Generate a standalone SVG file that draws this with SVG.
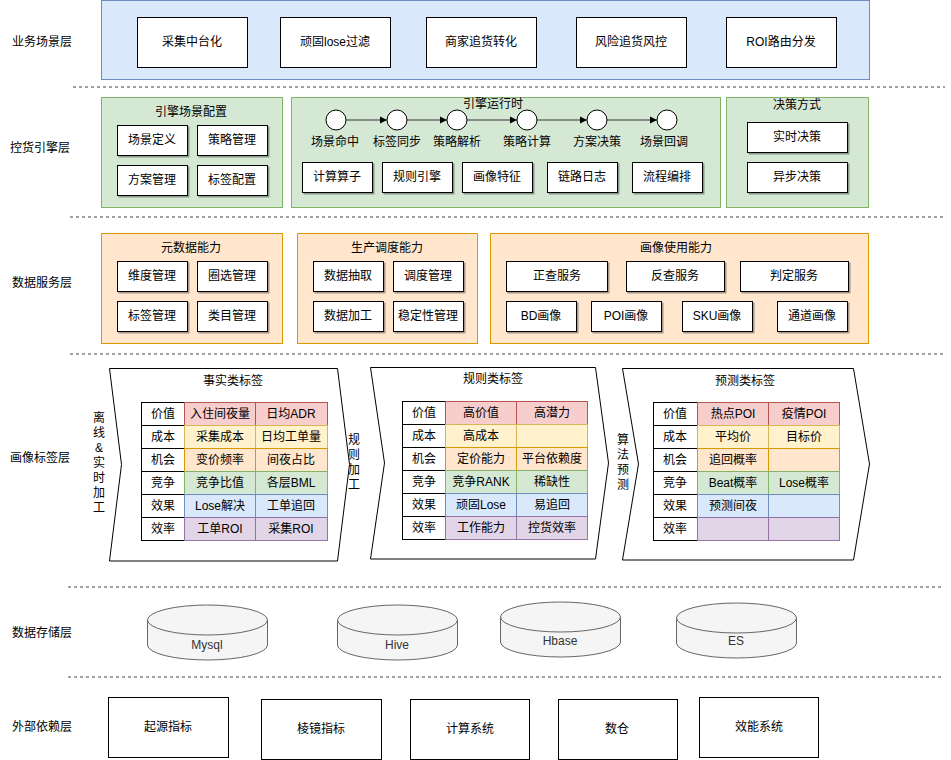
<svg xmlns="http://www.w3.org/2000/svg" width="951" height="760" viewBox="0 0 951 760">
<style>
text{font-family:"Liberation Sans","Noto Sans CJK SC",sans-serif;font-size:12px;fill:#000;text-anchor:middle;dominant-baseline:central}
.lbl{font-size:12px}
.box{fill:#fff;stroke:#000;stroke-width:1}
.sbox{fill:#fff;stroke:#000;stroke-width:1;filter:url(#sh)}
.blue{fill:#dae8fc;stroke:#6c8ebf}
.green{fill:#d5e8d4;stroke:#82b366}
.orange{fill:#ffe6cc;stroke:#d79b00}
.dash{stroke:#444;stroke-width:1;stroke-dasharray:3 3;fill:none}
.chev{fill:#fff;stroke:#000;stroke-width:1}
.c0{fill:#fff;stroke:#000}
.c1{fill:#f8cecc;stroke:#b85450}
.c2{fill:#fff2cc;stroke:#d6b656}
.c3{fill:#ffe6cc;stroke:#d79b00}
.c4{fill:#d5e8d4;stroke:#82b366}
.c5{fill:#dae8fc;stroke:#6c8ebf}
.c6{fill:#e1d5e7;stroke:#9673a6}
.cyl{fill:#f5f5f5;stroke:#666;stroke-width:1}
.ct{fill:#333}
.circ{fill:#fff;stroke:#000;stroke-width:1}
.arr{stroke:#333;stroke-width:1;fill:none;marker-end:url(#ah)}
</style>
<defs>
<filter id="sh" x="-10%" y="-10%" width="130%" height="140%">
<feDropShadow dx="1.5" dy="1.5" stdDeviation="0.6" flood-color="#000" flood-opacity="0.35"/>
</filter>
<marker id="ah" markerWidth="8" markerHeight="8" refX="7" refY="4" orient="auto" markerUnits="userSpaceOnUse">
<path d="M0,0.5 L7,4 L0,7.5 Z" fill="#000"/>
</marker>
</defs>

<g id="layer-labels">
<text x="42" y="42">业务场景层</text>
<text x="40" y="148">控货引擎层</text>
<text x="42" y="283">数据服务层</text>
<text x="40" y="458">画像标签层</text>
<text x="42" y="633">数据存储层</text>
<text x="42" y="727">外部依赖层</text>
</g>

<g id="separators">
<line class="dash" x1="73" y1="87" x2="945" y2="87"/>
<line class="dash" x1="70" y1="217" x2="945" y2="217"/>
<line class="dash" x1="70" y1="354" x2="945" y2="354"/>
<line class="dash" x1="68" y1="587" x2="942" y2="587"/>
<line class="dash" x1="68" y1="677" x2="942" y2="677"/>
</g>

<g id="business-layer">
<rect class="blue" x="101.5" y="0.5" width="768" height="79"/>
<g id="biz-1"><rect class="box" x="137.5" y="17.5" width="110" height="50"/><text x="192" y="42">采集中台化</text></g>
<g id="biz-2"><rect class="box" x="280.5" y="17.5" width="110" height="50"/><text x="335" y="42">顽固lose过滤</text></g>
<g id="biz-3"><rect class="box" x="426.5" y="17.5" width="110" height="50"/><text x="481" y="42">商家追货转化</text></g>
<g id="biz-4"><rect class="box" x="576.5" y="17.5" width="110" height="50"/><text x="631" y="42">风险追货风控</text></g>
<g id="biz-5"><rect class="box" x="726.5" y="17.5" width="110" height="50"/><text x="781" y="42">ROI路由分发</text></g>
</g>

<g id="engine-config">
<rect class="green" x="101.5" y="97.5" width="181" height="110"/>
<text x="191" y="112">引擎场景配置</text>
<g id="cfg-1"><rect class="sbox" x="117.5" y="125.5" width="70" height="30"/><text x="152" y="140">场景定义</text></g>
<g id="cfg-2"><rect class="sbox" x="197.5" y="125.5" width="70" height="30"/><text x="232" y="140">策略管理</text></g>
<g id="cfg-3"><rect class="sbox" x="117.5" y="165.5" width="70" height="30"/><text x="152" y="180">方案管理</text></g>
<g id="cfg-4"><rect class="sbox" x="197.5" y="165.5" width="70" height="30"/><text x="232" y="180">标签配置</text></g>
</g>

<g id="engine-runtime">
<rect class="green" x="291.5" y="97.5" width="429" height="110"/>
<text x="493" y="104">引擎运行时</text>
<g id="rt-connectors">
<line class="arr" x1="346" y1="120" x2="387" y2="120"/>
<line class="arr" x1="407" y1="120" x2="447" y2="120"/>
<line class="arr" x1="467" y1="120" x2="517" y2="120"/>
<line class="arr" x1="537" y1="120" x2="587" y2="120"/>
<line class="arr" x1="607" y1="120" x2="657" y2="120"/>
</g>
<g id="step-1"><circle class="circ" cx="336" cy="120" r="10"/><text x="335" y="142">场景命中</text></g>
<g id="step-2"><circle class="circ" cx="397" cy="120" r="10"/><text x="397" y="142">标签同步</text></g>
<g id="step-3"><circle class="circ" cx="457" cy="120" r="10"/><text x="457" y="142">策略解析</text></g>
<g id="step-4"><circle class="circ" cx="527" cy="120" r="10"/><text x="527" y="142">策略计算</text></g>
<g id="step-5"><circle class="circ" cx="597" cy="120" r="10"/><text x="597" y="142">方案决策</text></g>
<g id="step-6"><circle class="circ" cx="667" cy="120" r="10"/><text x="664" y="142">场景回调</text></g>
<g id="rt-1"><rect class="sbox" x="302.5" y="162.5" width="70" height="30"/><text x="337" y="177">计算算子</text></g>
<g id="rt-2"><rect class="sbox" x="382.5" y="162.5" width="70" height="30"/><text x="417" y="177">规则引擎</text></g>
<g id="rt-3"><rect class="sbox" x="462.5" y="162.5" width="70" height="30"/><text x="497" y="177">画像特征</text></g>
<g id="rt-4"><rect class="sbox" x="547.5" y="162.5" width="70" height="30"/><text x="582" y="177">链路日志</text></g>
<g id="rt-5"><rect class="sbox" x="632.5" y="162.5" width="70" height="30"/><text x="667" y="177">流程编排</text></g>
</g>

<g id="decision">
<rect class="green" x="726.5" y="97.5" width="142" height="110"/>
<text x="797" y="105">决策方式</text>
<g id="dec-1"><rect class="sbox" x="747.5" y="122.5" width="100" height="30"/><text x="797" y="137">实时决策</text></g>
<g id="dec-2"><rect class="sbox" x="747.5" y="162.5" width="100" height="30"/><text x="797" y="177">异步决策</text></g>
</g>

<g id="meta-data">
<rect class="orange" x="101.5" y="233.5" width="181" height="110"/>
<text x="191" y="248">元数据能力</text>
<g id="md-1"><rect class="sbox" x="117.5" y="261.5" width="70" height="30"/><text x="152" y="276">维度管理</text></g>
<g id="md-2"><rect class="sbox" x="197.5" y="261.5" width="70" height="30"/><text x="232" y="276">圈选管理</text></g>
<g id="md-3"><rect class="sbox" x="117.5" y="301.5" width="70" height="30"/><text x="152" y="316">标签管理</text></g>
<g id="md-4"><rect class="sbox" x="197.5" y="301.5" width="70" height="30"/><text x="232" y="316">类目管理</text></g>
</g>

<g id="production">
<rect class="orange" x="297.5" y="233.5" width="180" height="110"/>
<text x="387" y="248">生产调度能力</text>
<g id="pd-1"><rect class="sbox" x="313.5" y="261.5" width="70" height="30"/><text x="348" y="276">数据抽取</text></g>
<g id="pd-2"><rect class="sbox" x="393.5" y="261.5" width="70" height="30"/><text x="428" y="276">调度管理</text></g>
<g id="pd-3"><rect class="sbox" x="313.5" y="301.5" width="70" height="30"/><text x="348" y="316">数据加工</text></g>
<g id="pd-4"><rect class="sbox" x="393.5" y="301.5" width="70" height="30"/><text x="428" y="316">稳定性管理</text></g>
</g>

<g id="portrait-usage">
<rect class="orange" x="490.5" y="233.5" width="378" height="110"/>
<text x="676" y="248">画像使用能力</text>
<g id="pu-1"><rect class="sbox" x="506.5" y="261.5" width="101" height="30"/><text x="557" y="276">正查服务</text></g>
<g id="pu-2"><rect class="sbox" x="626.5" y="261.5" width="98" height="30"/><text x="675" y="276">反查服务</text></g>
<g id="pu-3"><rect class="sbox" x="740.5" y="261.5" width="108" height="30"/><text x="794" y="276">判定服务</text></g>
<g id="pu-4"><rect class="sbox" x="506.5" y="301.5" width="70" height="30"/><text x="541" y="316">BD画像</text></g>
<g id="pu-5"><rect class="sbox" x="591.5" y="301.5" width="70" height="30"/><text x="626" y="316">POI画像</text></g>
<g id="pu-6"><rect class="sbox" x="682.5" y="301.5" width="70" height="30"/><text x="717" y="316">SKU画像</text></g>
<g id="pu-7"><rect class="sbox" x="777.5" y="301.5" width="70" height="30"/><text x="812" y="316">通道画像</text></g>
</g>

<g id="vertical-labels">
<text x="99"><tspan x="99" y="418">离</tspan><tspan x="99" y="433">线</tspan><tspan x="99" y="448">&amp;</tspan><tspan x="99" y="463">实</tspan><tspan x="99" y="478">时</tspan><tspan x="99" y="493">加</tspan><tspan x="99" y="508">工</tspan></text>
<text x="354"><tspan x="354" y="440">规</tspan><tspan x="354" y="455">则</tspan><tspan x="354" y="470">加</tspan><tspan x="354" y="485">工</tspan></text>
<text x="623"><tspan x="623" y="440">算</tspan><tspan x="623" y="455">法</tspan><tspan x="623" y="470">预</tspan><tspan x="623" y="485">测</tspan></text>
</g>

<g id="fact-tags">
<path class="chev" d="M109.5,368.5 L337.5,368.5 L349.5,464.5 L337.5,561 L109.5,561 L121.5,464.5 Z"/>
<text x="233" y="381">事实类标签</text>
<rect class="c0" x="141.5" y="402.5" width="43" height="23"/><text x="163" y="414">价值</text>
<rect class="c0" x="141.5" y="425.5" width="43" height="23"/><text x="163" y="437">成本</text>
<rect class="c0" x="141.5" y="448.5" width="43" height="23"/><text x="163" y="460">机会</text>
<rect class="c0" x="141.5" y="471.5" width="43" height="23"/><text x="163" y="483">竞争</text>
<rect class="c0" x="141.5" y="494.5" width="43" height="23"/><text x="163" y="506">效果</text>
<rect class="c0" x="141.5" y="517.5" width="43" height="23"/><text x="163" y="529">效率</text>
<rect class="c1" x="184.5" y="402.5" width="71" height="23"/><text x="220" y="414">入住间夜量</text>
<rect class="c1" x="255.5" y="402.5" width="72" height="23"/><text x="291" y="414">日均ADR</text>
<rect class="c2" x="184.5" y="425.5" width="71" height="23"/><text x="220" y="437">采集成本</text>
<rect class="c2" x="255.5" y="425.5" width="72" height="23"/><text x="291" y="437">日均工单量</text>
<rect class="c3" x="184.5" y="448.5" width="71" height="23"/><text x="220" y="460">变价频率</text>
<rect class="c3" x="255.5" y="448.5" width="72" height="23"/><text x="291" y="460">间夜占比</text>
<rect class="c4" x="184.5" y="471.5" width="71" height="23"/><text x="220" y="483">竞争比值</text>
<rect class="c4" x="255.5" y="471.5" width="72" height="23"/><text x="291" y="483">各层BML</text>
<rect class="c5" x="184.5" y="494.5" width="71" height="23"/><text x="220" y="506">Lose解决</text>
<rect class="c5" x="255.5" y="494.5" width="72" height="23"/><text x="291" y="506">工单追回</text>
<rect class="c6" x="184.5" y="517.5" width="71" height="23"/><text x="220" y="529">工单ROI</text>
<rect class="c6" x="255.5" y="517.5" width="72" height="23"/><text x="291" y="529">采集ROI</text>
</g>

<g id="rule-tags">
<path class="chev" d="M370.5,367.5 L595.5,367.5 L608.5,463 L595.5,559 L370.5,559 L384.5,463 Z"/>
<text x="493" y="379">规则类标签</text>
<rect class="c0" x="402.5" y="401.5" width="43" height="23"/><text x="424" y="413">价值</text>
<rect class="c0" x="402.5" y="424.5" width="43" height="23"/><text x="424" y="436">成本</text>
<rect class="c0" x="402.5" y="447.5" width="43" height="23"/><text x="424" y="459">机会</text>
<rect class="c0" x="402.5" y="470.5" width="43" height="23"/><text x="424" y="482">竞争</text>
<rect class="c0" x="402.5" y="493.5" width="43" height="23"/><text x="424" y="505">效果</text>
<rect class="c0" x="402.5" y="516.5" width="43" height="23"/><text x="424" y="528">效率</text>
<rect class="c1" x="445.5" y="401.5" width="71" height="23"/><text x="481" y="413">高价值</text>
<rect class="c1" x="516.5" y="401.5" width="71" height="23"/><text x="552" y="413">高潜力</text>
<rect class="c2" x="445.5" y="424.5" width="71" height="23"/><text x="481" y="436">高成本</text>
<rect class="c2" x="516.5" y="424.5" width="71" height="23"/>
<rect class="c3" x="445.5" y="447.5" width="71" height="23"/><text x="481" y="459">定价能力</text>
<rect class="c3" x="516.5" y="447.5" width="71" height="23"/><text x="552" y="459">平台依赖度</text>
<rect class="c4" x="445.5" y="470.5" width="71" height="23"/><text x="481" y="482">竞争RANK</text>
<rect class="c4" x="516.5" y="470.5" width="71" height="23"/><text x="552" y="482">稀缺性</text>
<rect class="c5" x="445.5" y="493.5" width="71" height="23"/><text x="481" y="505">顽固Lose</text>
<rect class="c5" x="516.5" y="493.5" width="71" height="23"/><text x="552" y="505">易追回</text>
<rect class="c6" x="445.5" y="516.5" width="71" height="23"/><text x="481" y="528">工作能力</text>
<rect class="c6" x="516.5" y="516.5" width="71" height="23"/><text x="552" y="528">控货效率</text>
</g>

<g id="predict-tags">
<path class="chev" d="M622.5,368.5 L853.5,368.5 L869.5,464 L853.5,560 L622.5,560 L638.5,464 Z"/>
<text x="745" y="381">预测类标签</text>
<rect class="c0" x="653.5" y="402.5" width="44" height="23"/><text x="675" y="414">价值</text>
<rect class="c0" x="653.5" y="425.5" width="44" height="23"/><text x="675" y="437">成本</text>
<rect class="c0" x="653.5" y="448.5" width="44" height="23"/><text x="675" y="460">机会</text>
<rect class="c0" x="653.5" y="471.5" width="44" height="23"/><text x="675" y="483">竞争</text>
<rect class="c0" x="653.5" y="494.5" width="44" height="23"/><text x="675" y="506">效果</text>
<rect class="c0" x="653.5" y="517.5" width="44" height="23"/><text x="675" y="529">效率</text>
<rect class="c1" x="697.5" y="402.5" width="71" height="23"/><text x="733" y="414">热点POI</text>
<rect class="c1" x="768.5" y="402.5" width="71" height="23"/><text x="804" y="414">疫情POI</text>
<rect class="c2" x="697.5" y="425.5" width="71" height="23"/><text x="733" y="437">平均价</text>
<rect class="c2" x="768.5" y="425.5" width="71" height="23"/><text x="804" y="437">目标价</text>
<rect class="c3" x="697.5" y="448.5" width="71" height="23"/><text x="733" y="460">追回概率</text>
<rect class="c3" x="768.5" y="448.5" width="71" height="23"/>
<rect class="c4" x="697.5" y="471.5" width="71" height="23"/><text x="733" y="483">Beat概率</text>
<rect class="c4" x="768.5" y="471.5" width="71" height="23"/><text x="804" y="483">Lose概率</text>
<rect class="c5" x="697.5" y="494.5" width="71" height="23"/><text x="733" y="506">预测间夜</text>
<rect class="c5" x="768.5" y="494.5" width="71" height="23"/>
<rect class="c6" x="697.5" y="517.5" width="71" height="23"/>
<rect class="c6" x="768.5" y="517.5" width="71" height="23"/>
</g>

<g id="db-mysql">
<path class="cyl" d="M147.5,620 A60,15 0 0 1 267.5,620 L267.5,645 A60,15 0 0 1 147.5,645 Z"/>
<path class="cyl" d="M147.5,620 A60,15 0 0 0 267.5,620" fill="none"/>
<text class="ct" x="207" y="645">Mysql</text>
</g>
<g id="db-hive">
<path class="cyl" d="M337.5,620 A60,15 0 0 1 457.5,620 L457.5,645 A60,15 0 0 1 337.5,645 Z"/>
<path class="cyl" d="M337.5,620 A60,15 0 0 0 457.5,620" fill="none"/>
<text class="ct" x="397" y="645">Hive</text>
</g>
<g id="db-hbase">
<path class="cyl" d="M500.5,617 A60,15 0 0 1 620.5,617 L620.5,642 A60,15 0 0 1 500.5,642 Z"/>
<path class="cyl" d="M500.5,617 A60,15 0 0 0 620.5,617" fill="none"/>
<text class="ct" x="560" y="641">Hbase</text>
</g>
<g id="db-es">
<path class="cyl" d="M676.5,618 A60,15 0 0 1 796.5,618 L796.5,643 A60,15 0 0 1 676.5,643 Z"/>
<path class="cyl" d="M676.5,618 A60,15 0 0 0 796.5,618" fill="none"/>
<text class="ct" x="736" y="641">ES</text>
</g>

<g id="ext-1"><rect class="box" x="108.5" y="697.5" width="120" height="60"/><text x="168" y="727">起源指标</text></g>
<g id="ext-2"><rect class="box" x="261.5" y="699.5" width="120" height="60"/><text x="321" y="729">棱镜指标</text></g>
<g id="ext-3"><rect class="box" x="410.5" y="699.5" width="119" height="60"/><text x="470" y="729">计算系统</text></g>
<g id="ext-4"><rect class="box" x="558.5" y="699.5" width="119" height="60"/><text x="617" y="729">数仓</text></g>
<g id="ext-5"><rect class="box" x="699.5" y="697.5" width="119" height="60"/><text x="759" y="727">效能系统</text></g>
</svg>
